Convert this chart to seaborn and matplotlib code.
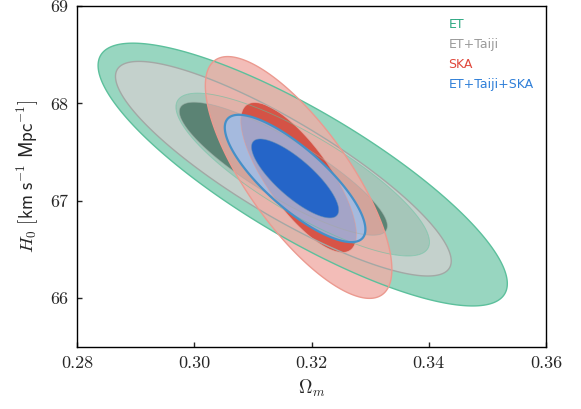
import numpy as np
import matplotlib
matplotlib.use("Agg")
import matplotlib.pyplot as plt
from matplotlib.patches import Patch
from matplotlib.colors import to_rgba
import seaborn as sns

sns.set_style("ticks")
plt.rcParams["mathtext.fontset"] = "cm"
plt.rcParams["font.family"] = "serif"
plt.rcParams["font.serif"] = ["cmr10"]
plt.rcParams["axes.formatter.use_mathtext"] = True

# Gaussian approximations of the posteriors
labels = ["ET", "ET+Taiji", "SKA", "ET+Taiji+SKA"]
om_mean = [0.3185, 0.3152, 0.3178, 0.3172]
h0_mean = [67.27, 67.33, 67.24, 67.23]
om_sigma = [0.01426, 0.0117, 0.00650, 0.00490]
h0_sigma = [0.551, 0.450, 0.507, 0.267]
rho = [-0.83, -0.86, -0.76, -0.80]

# 68% and 95% levels in delta chi^2
levels = [0, 2.30, 5.99]

fill_inner = ["#2fb080", "#6f716f", "#d9493c", "#2565c8"]
fill_outer = ["#98d6c0", "#d8d0d2", "#f1ada6", "#97c2f5"]
alphas = [1.0, 0.7, 0.8, 0.75]
inner_alpha = [1.0, 0.7, 0.92, 1.0]
edges = ["#5cc09c", "#a3a8a5", "#eb9a90", "#4590c8"]
edge_w = [1.0, 1.0, 1.0, 1.6]
text_colors = ["#2ea882", "#9a9a9a", "#e0473b", "#2f7fd8"]

om = np.linspace(0.27, 0.37, 600)
h0 = np.linspace(65.0, 70.0, 600)
X, Y = np.meshgrid(om, h0)

fig = plt.figure(figsize=(5.81, 4.09), dpi=100)
ax = fig.add_axes([77/581, 1-347/409, (546-77)/581, (347-6)/409])

for i in range(len(labels)):
    dx = (X - om_mean[i]) / om_sigma[i]
    dy = (Y - h0_mean[i]) / h0_sigma[i]
    r = rho[i]
    chi2 = (dx**2 - 2*r*dx*dy + dy**2) / (1 - r**2)
    ax.contourf(X, Y, chi2, levels=levels, antialiased=True,
                colors=[to_rgba(fill_inner[i], inner_alpha[i]),
                        to_rgba(fill_outer[i], alphas[i])])
    ax.contour(X, Y, chi2, levels=[5.99], colors=[edges[i]],
               linewidths=edge_w[i])
    ax.contour(X, Y, chi2, levels=[2.30], colors=[edges[i]],
               linewidths=0.6, alpha=0.6)

ax.set_xlim(0.28, 0.36)
ax.set_ylim(65.5, 69)
ax.set_xticks([0.28, 0.30, 0.32, 0.34, 0.36])
ax.set_yticks([66, 67, 68, 69])
ax.xaxis.set_major_formatter(matplotlib.ticker.FuncFormatter(lambda v, p: f"{v:.2f}"))
ax.yaxis.set_major_formatter(matplotlib.ticker.FuncFormatter(lambda v, p: f"{v:.0f}"))
ax.tick_params(direction="in", length=3.5, width=1, labelsize=13, pad=6,
               top=False, right=False)
for s in ax.spines.values():
    s.set_linewidth(1.0)
    s.set_color("black")

ax.set_xlabel(r"$\Omega_m$", fontsize=13.5, labelpad=5)
ax.set_ylabel(r"$H_0\ [\mathsf{km\ s^{-1}\ Mpc^{-1}}]$", fontsize=13.5, labelpad=7)

handles = [Patch(visible=False) for _ in labels]
ax.legend(handles, labels, loc="upper right", frameon=False,
          handlelength=0, handletextpad=0, labelcolor=text_colors,
          prop={"family": "DejaVu Sans", "size": 9}, labelspacing=0.55,
          borderaxespad=0.6)

fig.savefig("out.png", dpi=100)
